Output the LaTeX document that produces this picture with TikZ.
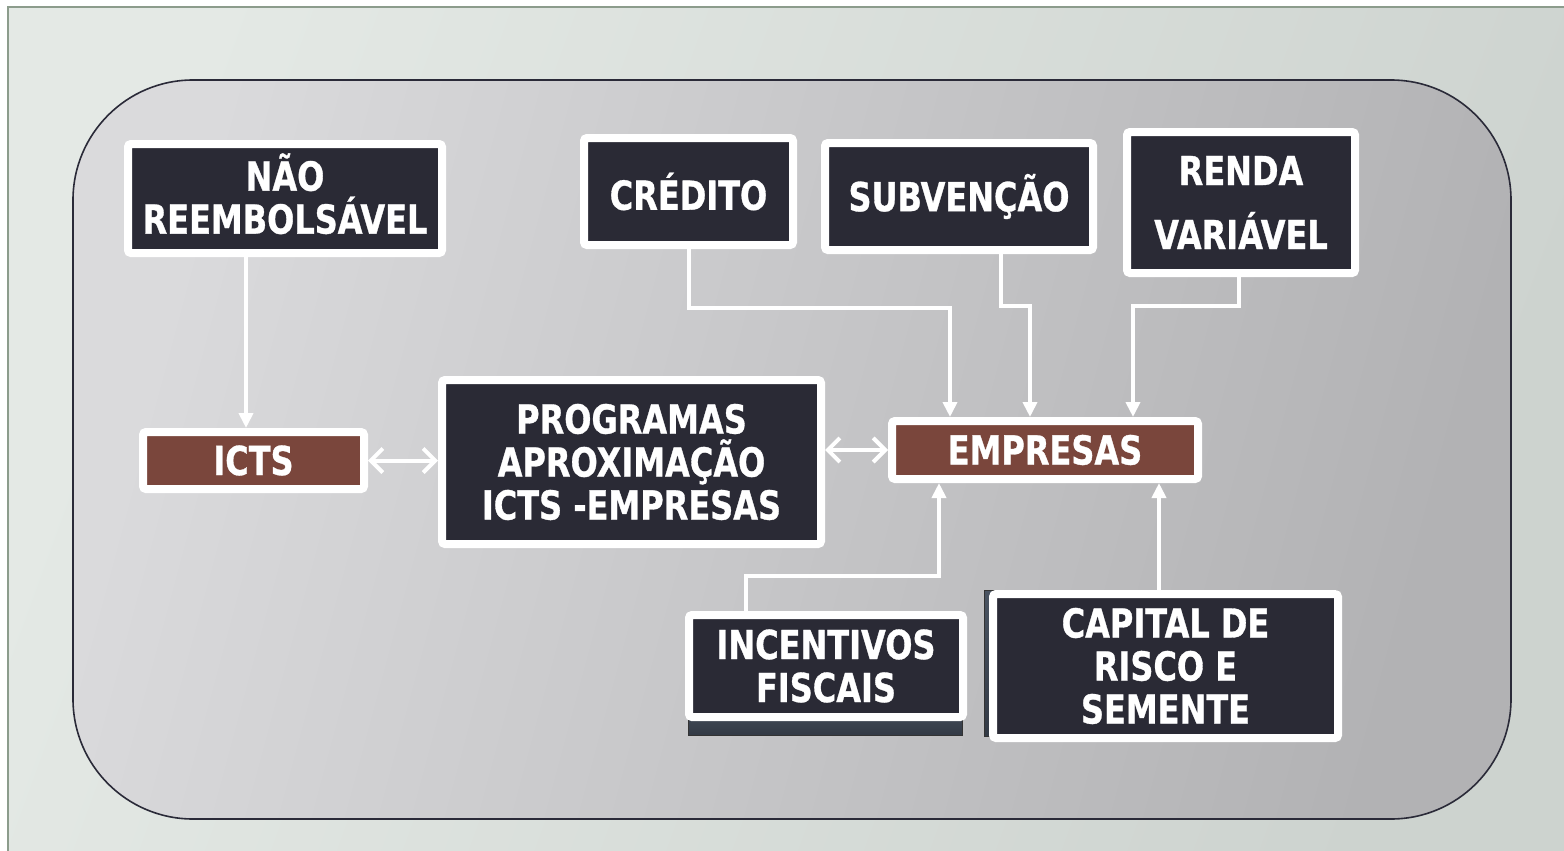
\documentclass[tikz,border=0pt]{standalone}
\usepackage{fontspec}
\newfontfamily\boxfont[FakeStretch=0.8,BoldFeatures={FakeBold=0.8}]{DejaVu Sans}
\usetikzlibrary{arrows.meta}
\definecolor{boxfill}{HTML}{2A2A35}
\definecolor{brownfill}{HTML}{7A463C}
\definecolor{panelline}{HTML}{2A2A38}
\definecolor{framegreen}{HTML}{8C9C8C}
\definecolor{bgleft}{HTML}{E4E9E5}
\definecolor{bgright}{HTML}{CDD3CF}
\definecolor{panelleft}{HTML}{DADADC}
\definecolor{panelright}{HTML}{B2B2B4}
\definecolor{shadowtop}{HTML}{4A5462}
\definecolor{shadowbot}{HTML}{333A45}
\tikzset{
  box/.style={draw=white, fill=boxfill, line width=4pt, rounded corners=1.5pt,
    text=white, align=center, inner sep=0pt,
    font=\boxfont\bfseries\fontsize{20}{21.5}\selectfont},
  brownbox/.style={box, fill=brownfill},
  link/.style={draw=white, line width=2pt, -{Triangle[length=7.5pt,width=7pt]}},
  dlink/.style={draw=white, line width=2pt,
    {Straight Barb[length=6pt,width=12pt]}-{Straight Barb[length=6pt,width=12pt]}},
  shadowpanel/.style={top color=shadowtop, bottom color=shadowbot, draw=black!80, line width=0.5pt},
}

\begin{document}
\begin{tikzpicture}[x=0.5pt,y=-0.5pt]

    \useasboundingbox (0,0) rectangle (1564,851);
    \fill[white] (0,0) rectangle (1564,851);

    % background and panel
    \shade[left color=bgleft, right color=bgright, shading angle=70] (8,7) rectangle (1564,851);
    \draw[framegreen, line width=1pt] (8,851) -- (8,7) -- (1564,7);
    \draw[panelline, line width=0.8pt, rounded corners=60pt, left color=panelleft, right color=panelright, shading angle=75]
      (73,80) rectangle (1511,819);

    \shade[shadowpanel] (688,700) rectangle (962,735);
    \shade[shadowpanel] (984,590) rectangle (1336,736);

    \node[box, minimum width=157pt, minimum height=54.5pt, text depth=5pt] (nao) at (285,198.5) {NÃO\\REEMBOLSÁVEL};
    \node[box, minimum width=104.5pt, minimum height=53.5pt] (credito) at (688.5,191.5) {CRÉDITO};
    \node[box, minimum width=134pt, minimum height=53.5pt] (subvencao) at (959,196.5) {SUBVENÇÃO};
    \node[box, minimum width=114pt, minimum height=70.5pt] (renda) at (1241,202.5) {RENDA\\[10.5pt]VARIÁVEL};

    \node[brownbox, minimum width=110.5pt, minimum height=28.5pt] (icts) at (253.5,460.5) {ICTS};
    \node[box, minimum width=189.5pt, minimum height=82pt] (programas) at (631.5,462) {PROGRAMAS\\APROXIMAÇÃO\\ICTS -EMPRESAS};
    \node[brownbox, minimum width=153pt, minimum height=29pt] (empresas) at (1045,450) {EMPRESAS};

    \node[box, minimum width=137pt, minimum height=51pt] (incentivos) at (826,666) {INCENTIVOS\\FISCAIS};
    \node[box, minimum width=172.5pt, minimum height=72pt] (capital) at (1165.5,666) {CAPITAL DE\\RISCO E\\SEMENTE};

    % connectors
    \draw[link] ([xshift=-19.5pt]nao.south) -- ([xshift=-19.5pt]nao.south |- icts.north);
    \draw[dlink] (icts.east) -- (icts.east -| programas.west);
    \draw[dlink] (empresas.west -| programas.east) -- (empresas.west);

    \draw[link] (credito.south) -- ++(0,59) -| ([xshift=-47.5pt]empresas.north);
    \draw[link] ([xshift=21pt]subvencao.south) -- ++(0,52) -| ([xshift=-7.5pt]empresas.north);
    \draw[link] ([xshift=-1pt]renda.south) -- ++(0,29) -| ([xshift=44pt]empresas.north);

    \draw[link] ([xshift=-40pt]incentivos.north) -- ++(0,-35) -| ([xshift=-53pt]empresas.south);
    \draw[link] ([xshift=-3.25pt]capital.north) -- ([xshift=-3.25pt]capital.north |- empresas.south);

\end{tikzpicture}
\end{document}
